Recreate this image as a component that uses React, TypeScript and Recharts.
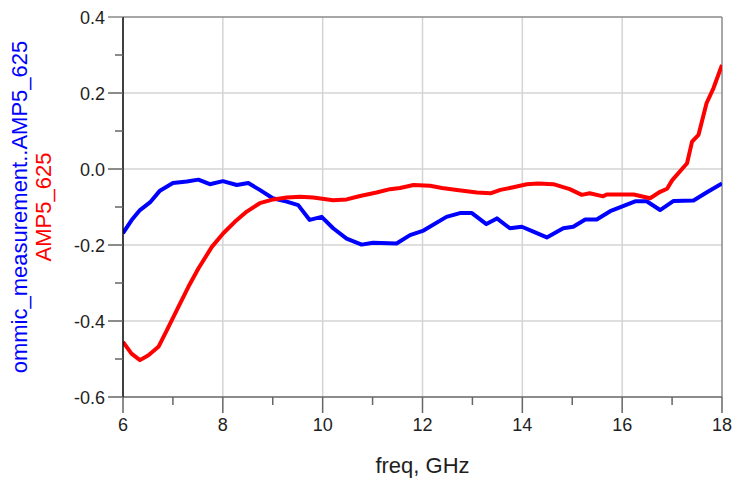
import React from "react";
import {
  LineChart,
  Line,
  XAxis,
  YAxis,
  CartesianGrid,
  ReferenceLine,
} from "recharts";

// Measured trace: ommic_measurement..AMP5_625
const measFreq = [
  6.0, 6.17, 6.34, 6.54, 6.74, 7.0, 7.28, 7.51, 7.74, 8.0, 8.28, 8.51, 8.74,
  9.0, 9.28, 9.51, 9.74, 9.98, 10.21, 10.48, 10.78, 11.01, 11.48, 11.75, 12.02,
  12.48, 12.75, 12.99, 13.28, 13.49, 13.75, 13.99, 14.22, 14.49, 14.82, 15.02,
  15.26, 15.49, 15.76, 16.03, 16.26, 16.49, 16.76, 17.03, 17.43, 17.69, 18.0,
];
const measValue = [
  -0.169, -0.135, -0.108, -0.088, -0.057, -0.037, -0.033, -0.028, -0.04,
  -0.032, -0.042, -0.037, -0.055, -0.077, -0.086, -0.095, -0.134, -0.126,
  -0.156, -0.183, -0.199, -0.194, -0.196, -0.174, -0.162, -0.126, -0.116,
  -0.116, -0.145, -0.13, -0.156, -0.152, -0.165, -0.18, -0.156, -0.152,
  -0.133, -0.133, -0.111, -0.097, -0.085, -0.085, -0.108, -0.084, -0.083,
  -0.062, -0.038,
];

// Simulated trace: AMP5_625
const simFreq = [
  6.0, 6.17, 6.34, 6.51, 6.71, 6.88, 7.11, 7.31, 7.51, 7.78, 8.01, 8.24, 8.48,
  8.74, 9.01, 9.28, 9.55, 9.81, 10.21, 10.48, 10.75, 11.08, 11.35, 11.55,
  11.82, 12.15, 12.39, 12.69, 13.09, 13.36, 13.56, 13.82, 14.09, 14.32, 14.62,
  14.95, 15.19, 15.35, 15.62, 15.69, 16.23, 16.56, 16.76, 16.9, 17.0, 17.3,
  17.4, 17.53, 17.69, 17.83, 18.0,
];
const simValue = [
  -0.455, -0.486, -0.503, -0.49, -0.468, -0.424, -0.363, -0.31, -0.262,
  -0.205, -0.169, -0.139, -0.112, -0.09, -0.08, -0.075, -0.073, -0.075,
  -0.082, -0.08, -0.071, -0.062, -0.053, -0.05, -0.042, -0.044, -0.05,
  -0.055, -0.062, -0.064, -0.055, -0.048, -0.04, -0.038, -0.04, -0.053,
  -0.068, -0.064, -0.072, -0.067, -0.067, -0.077, -0.06, -0.052, -0.03,
  0.015, 0.072, 0.09, 0.173, 0.213, 0.274,
];

// Axis ticks
const xMajorTicks = [6, 8, 10, 12, 14, 16, 18];
const xMinorTicks = [7, 9, 11, 13, 15, 17];
const yMajorTicks = [0.4, 0.2, 0.0, -0.2, -0.4, -0.6];
const yMinorTicks = [0.3, 0.1, -0.1, -0.3, -0.5];
const xGrid = [8, 10, 12, 14, 16];
const yGrid = [0.2, 0.0, -0.2, -0.4];

const measName = "ommic_measurement..AMP5_625";
const simName = "AMP5_625";
const xTitle = "freq, GHz";

const measData = measFreq.map((f, i) => ({ freq: f, value: measValue[i] }));
const simData = simFreq.map((f, i) => ({ freq: f, value: simValue[i] }));

const FONT = "'Liberation Sans', Arial, sans-serif";
const TICK_COLOR = "#1e1e1e";

const YTick = (props: any) => {
  const { x, y, payload } = props;
  const v = payload.value as number;
  const major = yMajorTicks.some((t) => Math.abs(t - v) < 1e-9);
  return (
    <g>
      <line
        x1={x}
        x2={x - (major ? 15 : 8)}
        y1={y}
        y2={y}
        stroke={major && v === 0.4 ? "#8a8a8a" : "#666"}
        strokeWidth={1.5}
      />
      {major && (
        <text
          x={x - 18}
          y={y + 6.5}
          textAnchor="end"
          fontFamily={FONT}
          fontSize={18}
          fill={TICK_COLOR}
        >
          {v.toFixed(1)}
        </text>
      )}
    </g>
  );
};

const XTick = (props: any) => {
  const { x, y, payload } = props;
  const v = payload.value as number;
  const major = xMajorTicks.includes(v);
  return (
    <g>
      <line
        x1={x}
        x2={x}
        y1={y}
        y2={y + (major ? 16 : 8)}
        stroke="#666"
        strokeWidth={1.5}
      />
      {major && (
        <text
          x={x}
          y={y + 34}
          textAnchor="middle"
          fontFamily={FONT}
          fontSize={18}
          fill={TICK_COLOR}
        >
          {v}
        </text>
      )}
    </g>
  );
};

const YTitle = (props: any) => {
  const vb = props.viewBox;
  const cy = vb.y + vb.height / 2;
  const bx = vb.x + 19;
  const rx = vb.x + 43;
  return (
    <g fontFamily={FONT} fontSize={22}>
      <text
        x={bx}
        y={cy}
        textAnchor="middle"
        fill="#0000ff"
        transform={`rotate(-90, ${bx}, ${cy})`}
      >
        {measName}
      </text>
      <text
        x={rx}
        y={cy}
        textAnchor="middle"
        fill="#ff0000"
        transform={`rotate(-90, ${rx}, ${cy})`}
      >
        {simName}
      </text>
    </g>
  );
};

const XTitle = (props: any) => {
  const vb = props.viewBox;
  return (
    <text
      x={vb.x + vb.width / 2}
      y={vb.y + 76}
      textAnchor="middle"
      fontFamily={FONT}
      fontSize={22}
      fill={TICK_COLOR}
    >
      {xTitle}
    </text>
  );
};

export default function App() {
  return (
    <div style={{ width: 739, height: 472, overflow: "hidden" }}>
      <style>{"html,body{overflow:hidden;}"}</style>
      <LineChart
        width={739}
        height={472}
        margin={{ top: 9, right: 25, bottom: 0, left: 0 }}
      >
        <CartesianGrid
          horizontalValues={yGrid}
          verticalValues={xGrid}
          stroke="#d4d4d4"
          strokeWidth={1.5}
        />
        <XAxis
          type="number"
          dataKey="freq"
          domain={[6, 18]}
          ticks={[...xMajorTicks, ...xMinorTicks].sort((a, b) => a - b)}
          interval={0}
          allowDataOverflow
          height={83}
          tickSize={0}
          tickMargin={0}
          tickLine={false}
          tick={<XTick />}
          axisLine={{ stroke: "#666", strokeWidth: 1.5 }}
          label={{ content: <XTitle /> }}
        />
        <YAxis
          type="number"
          domain={[-0.6, 0.4]}
          ticks={[...yMajorTicks, ...yMinorTicks].sort((a, b) => b - a)}
          interval={0}
          allowDataOverflow
          width={115}
          tickSize={0}
          tickMargin={0}
          tickLine={false}
          tick={<YTick />}
          axisLine={{ stroke: "#000", strokeWidth: 1.5 }}
          label={{ content: <YTitle /> }}
        />
        <ReferenceLine y={0.4} stroke="#8a8a8a" strokeWidth={1.5} />
        <ReferenceLine x={18} stroke="#8a8a8a" strokeWidth={1.5} />
        <Line
          data={measData}
          dataKey="value"
          name={measName}
          type="linear"
          stroke="#0000ff"
          strokeWidth={4}
          strokeLinejoin="round"
          dot={false}
          isAnimationActive={false}
        />
        <Line
          data={simData}
          dataKey="value"
          name={simName}
          type="linear"
          stroke="#ff0000"
          strokeWidth={4}
          strokeLinejoin="round"
          dot={false}
          isAnimationActive={false}
        />
      </LineChart>
    </div>
  );
}
